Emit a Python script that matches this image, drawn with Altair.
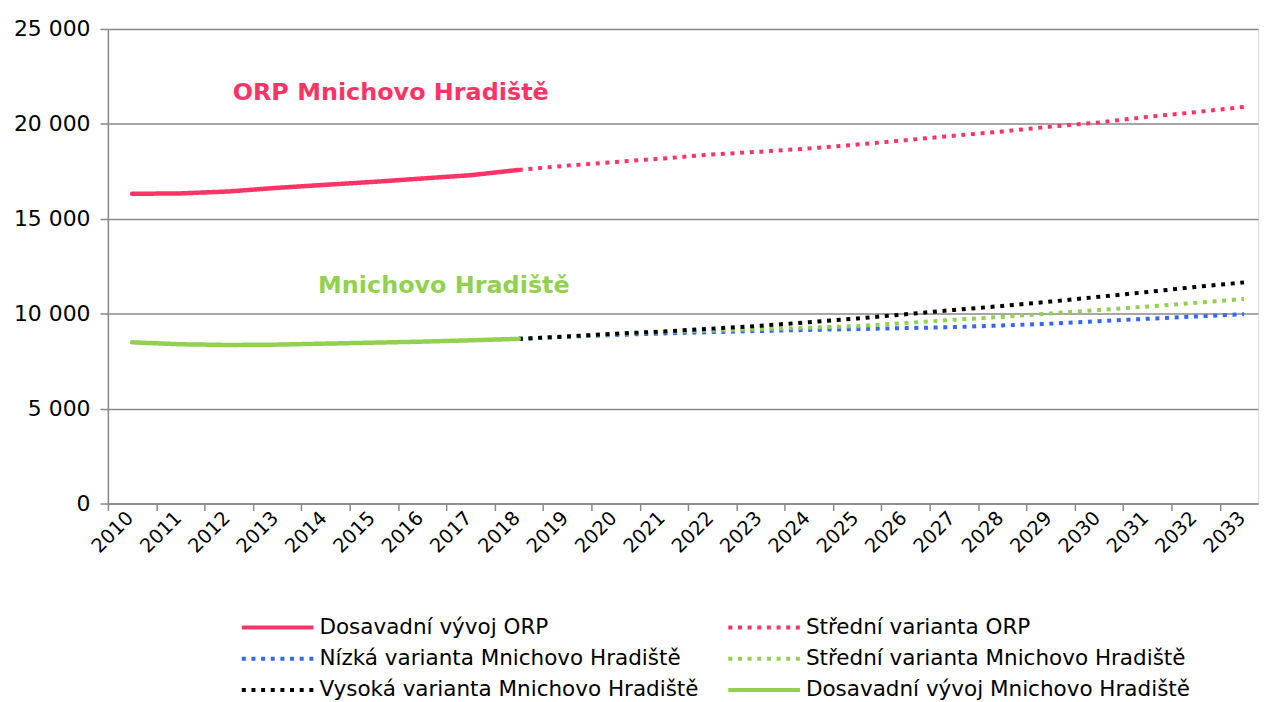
import altair as alt
import pandas as pd

# ---- data ----
years_hist = list(range(2010, 2019))
orp_hist = [16316, 16337, 16440, 16630, 16790, 16946, 17122, 17296, 17575]
mh_hist = [8494, 8389, 8354, 8371, 8424, 8476, 8529, 8599, 8675]

years_proj = list(range(2018, 2034))
orp_mid = [17575, 17800, 17995, 18180, 18390, 18535, 18705, 18910,
           19140, 19375, 19600, 19855, 20075, 20370, 20615, 20895]
mh_low = [8675, 8790, 8880, 8960, 9030, 9090, 9145, 9190,
          9241, 9294, 9381, 9477, 9608, 9731, 9853, 9974]
mh_mid = [8675, 8800, 8925, 9040, 9120, 9190, 9265, 9345,
          9513, 9679, 9831, 10016, 10195, 10377, 10571, 10779]
mh_high = [8675, 8805, 8946, 9067, 9214, 9365, 9554, 9748,
           9968, 10199, 10409, 10639, 10891, 11143, 11410, 11651]

S_ORP_HIST = "Dosavadní vývoj ORP"
S_ORP_MID = "Střední varianta ORP"
S_MH_LOW = "Nízká varianta Mnichovo Hradiště"
S_MH_MID = "Střední varianta Mnichovo Hradiště"
S_MH_HIGH = "Vysoká varianta Mnichovo Hradiště"
S_MH_HIST = "Dosavadní vývoj Mnichovo Hradiště"

# legend order (vertical legend fills column by column)
series_names = [S_ORP_HIST, S_MH_LOW, S_MH_HIGH, S_ORP_MID, S_MH_MID, S_MH_HIST]
series_colors = ["#FF3366", "#3366FF", "#000000", "#FF3366", "#92D050", "#92D050"]
DOT = [4, 5.7]
SOLID = [1, 0]
series_dash = [SOLID, DOT, DOT, DOT, DOT, SOLID]

annot_text = ["ORP Mnichovo Hradiště", "Mnichovo Hradiště"]
annot_year = [2015.35, 2016.45]
annot_value = [21650, 11480]
annot_color = ["#FF3366", "#92D050"]

year_ticks = list(range(2010, 2034))
y_ticks = [0, 5000, 10000, 15000, 20000, 25000]

# ---- build table ----
rows = []
def add(name, years, vals):
    for y, v in zip(years, vals):
        rows.append({"series": name, "year": y, "value": v})

add(S_ORP_HIST, years_hist, orp_hist)
add(S_ORP_MID, years_proj, orp_mid)
add(S_MH_LOW, years_proj, mh_low)
add(S_MH_MID, years_proj, mh_mid)
add(S_MH_HIGH, years_proj, mh_high)
add(S_MH_HIST, years_hist, mh_hist)
df = pd.DataFrame(rows)

ann = pd.DataFrame({"text": annot_text, "year": annot_year,
                    "value": annot_value, "color": annot_color})

FONT = "DejaVu Sans"

legend = alt.Legend(
    title=None, orient="none", legendX=132.6, legendY=587.5,
    direction="vertical", columns=2, columnPadding=21, rowPadding=6.5, padding=0,
    symbolType="M-1,0H5", symbolSize=576, symbolStrokeWidth=4,
    labelFontSize=21.6, labelFont=FONT, labelColor="#000000",
    labelOffset=52, labelLimit=600,
)

x_enc = alt.X(
    "year:Q",
    scale=alt.Scale(domain=[2009.5, 2033.29], nice=False, zero=False),
    axis=alt.Axis(
        values=year_ticks, format="d", title=None, grid=False,
        tickOffset=-24.3, labelOffset=22, tickSize=7,
        labelAngle=-45, labelAlign="right", labelBaseline="middle",
        labelOverlap=False, labelBound=False, labelFlush=False,
        labelFontSize=19.5, labelPadding=4, labelFont=FONT, labelColor="#000000",
        domainColor="#888888", domainWidth=1.5, tickColor="#888888", tickWidth=1.5,
    ),
)
y_enc = alt.Y(
    "value:Q",
    scale=alt.Scale(domain=[0, 25000], nice=False),
    axis=alt.Axis(
        values=y_ticks, title=None,
        labelExpr="replace(format(datum.value, ','), ',', ' ')",
        labelFontSize=22, labelFont=FONT, labelColor="#000000", labelPadding=10,
        tickSize=8, tickColor="#888888", tickWidth=1.5,
        domainColor="#888888", domainWidth=1.5,
        gridColor="#888888", gridWidth=1.5,
    ),
)

color_enc = alt.Color("series:N", scale=alt.Scale(domain=series_names, range=series_colors), legend=legend)
dash_enc = alt.StrokeDash("series:N", scale=alt.Scale(domain=series_names, range=series_dash), legend=legend)

draw_order = [S_MH_LOW, S_MH_MID, S_MH_HIGH, S_ORP_MID, S_ORP_HIST, S_MH_HIST]
solid = {S_ORP_HIST, S_MH_HIST}

layers = []
for name in draw_order:
    if name in solid:
        mk = dict(strokeWidth=4.5, strokeCap="round", strokeJoin="round")
    else:
        mk = dict(strokeWidth=4, strokeCap="butt")
    layers.append(
        alt.Chart(df).transform_filter(alt.datum.series == name)
        .mark_line(**mk)
        .encode(x=x_enc, y=y_enc, color=color_enc, strokeDash=dash_enc)
    )

text_layer = alt.Chart(ann).mark_text(
    font=FONT, fontSize=24, fontWeight="bold", align="center", baseline="middle"
).encode(
    x=alt.X("year:Q"), y=alt.Y("value:Q"), text="text:N",
    color=alt.Color("color:N", scale=None),
)

chart = alt.layer(*layers, text_layer).properties(
    width=1156, height=477,
    autosize=alt.AutoSizeParams(type="none"),
    padding={"left": 100.4, "top": 19.3, "right": 2, "bottom": 195.7},
).configure_view(stroke=None).configure(font=FONT)

chart.save("out.html", embed_options={"renderer": "svg", "actions": False})
